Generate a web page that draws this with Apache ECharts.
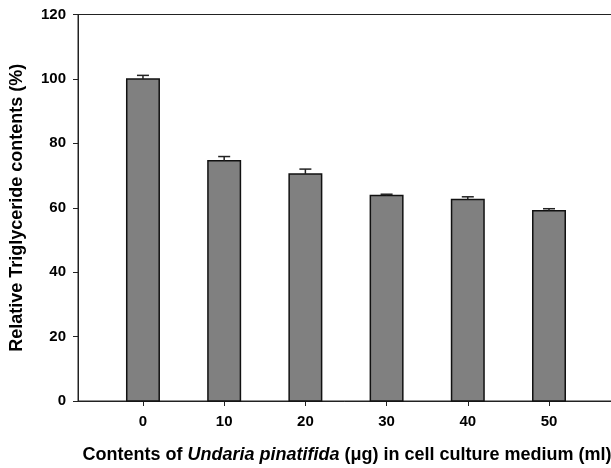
<!DOCTYPE html>
<html>
<head>
<meta charset="utf-8">
<script src="https://cdn.jsdelivr.net/npm/echarts@6/dist/echarts.min.js"></script>
<style>html,body{margin:0;padding:0;background:#fff;}#c{width:611px;height:468px;}</style>
</head>
<body>
<div id="c"></div>
<script>
var doses = [0, 10, 20, 30, 40, 50];
var values = [100.0, 74.6, 70.5, 63.8, 62.6, 59.1];
var errors = [1.1, 1.3, 1.5, 0.4, 0.8, 0.6];
var yTicks = [0, 20, 40, 60, 80, 100, 120];

var chart = echarts.init(document.getElementById('c'), null, {renderer: 'canvas'});
var FONT = 'Liberation Sans, Arial, sans-serif';
var data = doses.map(function (d, i) { return [d, values[i], errors[i]]; });

chart.setOption({
  animation: false,
  backgroundColor: '#fff',
  grid: {left: 78, top: 14.5, width: 538, height: 386.5, outerBoundsMode: 'none', containLabel: false,
         show: true, borderColor: '#222', borderWidth: 1, backgroundColor: 'transparent'},
  xAxis: {
    type: 'value', min: -8, max: 58.25,
    splitLine: {show: false},
    axisLine: {onZero: false, lineStyle: {color: '#222', width: 1}},
    axisTick: {show: true, length: 5, inside: false, customValues: doses, lineStyle: {color: '#222'}},
    axisLabel: {customValues: doses, color: '#000', fontFamily: FONT, fontWeight: 'bold', fontSize: 15, margin: 13},
    name: '{a|Contents of }{b|Undaria pinatifida}{a| (μg) in cell culture medium (ml)}',
    nameLocation: 'middle', nameGap: 45,
    nameTextStyle: {
      rich: {
        a: {fontFamily: FONT, fontWeight: 'bold', fontSize: 18, color: '#000'},
        b: {fontFamily: FONT, fontWeight: 'bold', fontStyle: 'italic', fontSize: 18, color: '#000'}
      }
    }
  },
  yAxis: {
    type: 'value', min: 0, max: 120, interval: 20,
    splitLine: {show: false},
    axisLine: {show: true, onZero: false, lineStyle: {color: '#222', width: 1}},
    axisTick: {show: true, length: 5, inside: false, lineStyle: {color: '#222'}},
    axisLabel: {color: '#000', fontFamily: FONT, fontWeight: 'bold', fontSize: 15, margin: 12},
    name: 'Relative Triglyceride contents (%)',
    nameLocation: 'middle', nameGap: 52,
    nameTextStyle: {fontFamily: FONT, fontWeight: 'bold', fontSize: 18, color: '#000'}
  },
  series: [{
    type: 'custom',
    data: data,
    encode: {x: 0, y: 1},
    renderItem: function (params, api) {
      var x = api.value(0), v = api.value(1), e = api.value(2);
      var tl = api.coord([x - 2, v]);
      var br = api.coord([x + 2, 0]);
      var top = api.coord([x, v + e]);
      var mid = api.coord([x, v]);
      return {
        type: 'group',
        children: [
          {type: 'rect', shape: {x: tl[0], y: tl[1], width: br[0] - tl[0], height: br[1] - tl[1]},
           style: {fill: '#808080', stroke: '#111', lineWidth: 1.5}},
          {type: 'line', shape: {x1: mid[0], y1: mid[1], x2: top[0], y2: top[1]}, style: {stroke: '#222', lineWidth: 1.5}},
          {type: 'line', shape: {x1: top[0] - 6, y1: top[1], x2: top[0] + 6, y2: top[1]}, style: {stroke: '#222', lineWidth: 1.5}}
        ]
      };
    }
  }]
});
</script>
</body>
</html>
